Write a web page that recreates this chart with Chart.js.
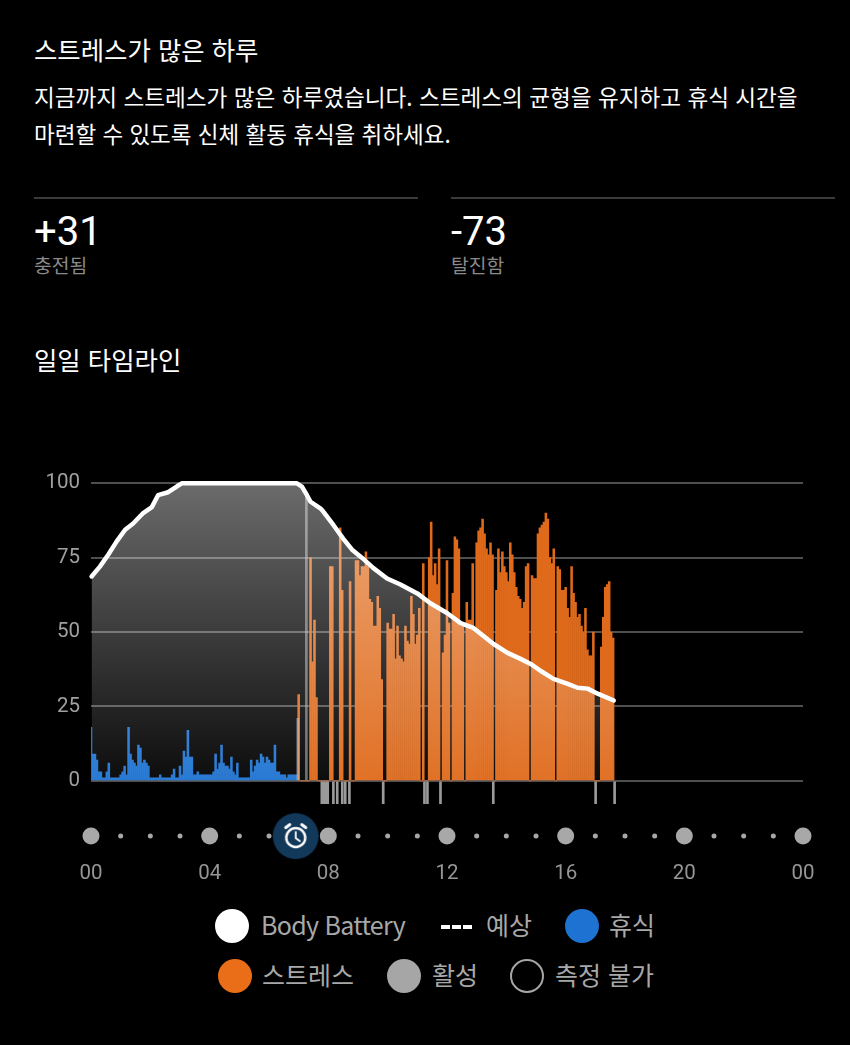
<!DOCTYPE html>
<html lang="ko">
<head>
<meta charset="utf-8">
<title>일일 타임라인</title>
<script src="https://cdn.jsdelivr.net/npm/chart.js@4/dist/chart.umd.min.js"></script>
<style>
    html, body { margin: 0; background: #000; }
    body { position: relative; width: 850px; height: 1045px; overflow: hidden; font-family: "Noto Sans CJK KR", sans-serif; color: #fff; }
    .t { position: absolute; white-space: nowrap; line-height: 1; }
    .rule { position: absolute; top: 197px; height: 2px; background: #3a3a3a; }
    .dot { position: absolute; width: 34px; height: 34px; border-radius: 50%; box-sizing: border-box; }
    .lg { position: absolute; font-size: 25px; color: #a8a8a8; line-height: 1; white-space: nowrap; }
    .dash { position: absolute; top: 925px; width: 9px; height: 4px; background: #fff; }
    #chartBox { position: absolute; left: 0; top: 460px; width: 850px; height: 430px; }
</style>
</head>
<body>
<div class="t" style="left:34px;top:37px;font-size:25.4px">스트레스가 많은 하루</div>
<div class="t" style="left:34px;top:86px;font-size:22.6px">지금까지 스트레스가 많은 하루였습니다. 스트레스의 균형을 유지하고 휴식 시간을</div>
<div class="t" style="left:34px;top:122px;font-size:22.5px">마련할 수 있도록 신체 활동 휴식을 취하세요.</div>
<div class="rule" style="left:34px;width:384px"></div>
<div class="rule" style="left:451px;width:384px"></div>
<div class="t" style="left:34px;top:212px;font-size:40px;font-family:Roboto">+31</div>
<div class="t" style="left:451px;top:212px;font-size:40px;font-family:Roboto">-73</div>
<div class="t" style="left:34px;top:256px;font-size:19.3px;color:#8a8a8a">충전됨</div>
<div class="t" style="left:451px;top:256px;font-size:19.3px;color:#8a8a8a">탈진함</div>
<div class="t" style="left:34px;top:347px;font-size:25.4px">일일 타임라인</div>

<div id="chartBox"><canvas id="timelineChart"></canvas></div>

<div class="dot" style="left:215px;top:909px;background:#fff"></div>
<div class="lg" style="left:261px;top:912px;letter-spacing:-0.7px">Body Battery</div>
<div class="dash" style="left:441px"></div><div class="dash" style="left:452px"></div><div class="dash" style="left:463px"></div>
<div class="lg" style="left:486px;top:912px">예상</div>
<div class="dot" style="left:565px;top:909px;background:#1e73d2"></div>
<div class="lg" style="left:609px;top:912px">휴식</div>
<div class="dot" style="left:218px;top:959px;background:#e96e17"></div>
<div class="lg" style="left:262px;top:962px">스트레스</div>
<div class="dot" style="left:387px;top:959px;background:#a6a6a6"></div>
<div class="lg" style="left:432px;top:962px">활성</div>
<div class="dot" style="left:510px;top:959px;border:2px solid #a6a6a6"></div>
<div class="lg" style="left:555px;top:962px">측정 불가</div>

<script>
const yTicks = [0, 25, 50, 75, 100];
const hourDots = [0, 1, 2, 3, 4, 5, 6, 8, 9, 10, 11, 12, 13, 14, 15, 16, 17, 18, 19, 20, 21, 22, 23, 24];

const batteryHours = [0.02, 0.3, 0.58, 0.86, 1.15, 1.42, 1.76, 2.05, 2.26, 2.6, 2.9, 3.06, 6.94, 7.11, 7.28, 7.4, 7.73, 7.83, 8.17, 8.5, 8.8, 9.13, 9.52, 9.98, 10.43, 11.0, 11.44, 12.0, 12.46, 12.89, 13.23, 13.57, 14.04, 14.48, 14.82, 15.15, 15.59, 16.07, 16.4, 16.74, 17.08, 17.62];
const batteryValues = [68.7, 72, 76, 80.4, 84.4, 86.5, 90, 92, 96, 97, 99, 100, 100, 98.9, 96, 93.8, 91.6, 90.5, 86, 81.4, 77.7, 75, 71.5, 68, 66, 63, 59.7, 56.4, 53, 51.4, 48.7, 46, 43, 41, 39.3, 37, 34.3, 32.6, 31.3, 31, 29.3, 27];

// 4 minute samples from 00:00
const restValues = [18, 9, 9, 7, 3, 3, 1, 1, 3, 6, 1, 1, 1, 1, 1, 2, 3, 5, 2, 18, 9, 7, 6, 5, 12, 11, 6, 7, 6, 5, 1, 1, 1, 1, 1, 2, 1, 1, 1, 1, 1, 2, 4, 1, 1, 5, 2, 10, 8, 17, 8, 8, 2, 2, 3, 2, 2, 2, 2, 2, 2, 2, 3, 9, 4, 6, 12, 6, 5, 5, 4, 8, 3, 2, 6, 1, 1, 1, 1, 1, 1, 7, 3, 5, 7, 6, 9, 8, 6, 8, 7, 6, 6, 12, 3, 3, 2, 2, 2, 1, 2, 2, 2, 2, 2];

// 4 minute samples from 07:00
const stressValues = [29, 0, 0, 0, 0, 0, 75, 40, 54, 28, 0, 0, 0, 0, 0, 0, 72, 72, 0, 0, 0, 85, 64, 0, 0, 0, 67, 0, 0, 74, 74, 69, 72, 72, 77, 72, 61, 60, 52, 52, 62, 58, 34, 0, 0, 53, 51, 51, 56, 41, 52, 42, 41, 40, 52, 47, 46, 62, 56, 46, 49, 58, 0, 73, 0, 0, 75, 87, 69, 73, 66, 78, 0, 43, 49, 74, 53, 0, 63, 82, 81, 78, 52, 53, 0, 60, 54, 54, 73, 50, 80, 84, 85, 88, 83, 78, 76, 80, 76, 0, 64, 78, 70, 77, 72, 70, 67, 80, 76, 70, 65, 62, 61, 58, 60, 72, 73, 0, 69, 68, 68, 83, 85, 86, 87, 90, 88, 75, 73, 78, 0, 72, 71, 64, 64, 65, 58, 55, 72, 63, 60, 55, 56, 52, 50, 58, 44, 42, 42, 50, 0, 0, 0, 45, 55, 65, 66, 67, 50, 48];

const activeHours = [6.97, 7.26];
const activeValues = [21, 96];
const activeMarkHours = [7.78, 7.85, 7.92, 7.98, 8.17, 8.3, 8.47, 8.57, 8.71, 9.85, 11.24, 11.34, 11.78, 13.56, 17.01, 17.65];
const alarmHour = [6.9];

const STEP_HOURS = 4 / 60;
const DOT_ROW = -18.56;
const MARK_DEPTH = -7.7;

const makeAlarmIcon = () => {
    const c = document.createElement('canvas');
    c.width = 48;
    c.height = 48;
    const g = c.getContext('2d');
    g.fillStyle = '#12385a';
    g.beginPath();
    g.arc(24, 24, 23, 0, Math.PI * 2);
    g.fill();
    g.strokeStyle = '#fff';
    g.lineCap = 'round';
    g.lineWidth = 2.4;
    g.beginPath();
    g.arc(24, 25.5, 9.5, 0, Math.PI * 2);
    g.stroke();
    g.lineWidth = 1.8;
    g.beginPath();
    g.moveTo(24, 20);
    g.lineTo(24, 26);
    g.lineTo(28, 29);
    g.stroke();
    g.lineWidth = 3;
    g.beginPath();
    g.moveTo(14, 15.5);
    g.lineTo(18, 12.5);
    g.moveTo(34, 15.5);
    g.lineTo(30, 12.5);
    g.stroke();
    return c;
};

const batteryFill = (context) => {
    const { chart } = context;
    if (!chart.chartArea) return 'transparent';
    const y = chart.scales.y;
    const gradient = chart.ctx.createLinearGradient(0, y.getPixelForValue(100), 0, y.getPixelForValue(0));
    gradient.addColorStop(0, 'rgba(255, 255, 255, 0.42)');
    gradient.addColorStop(1, 'rgba(255, 255, 255, 0.05)');
    return gradient;
};

new Chart(document.getElementById('timelineChart'), {
    type: 'bar',
    data: {
        datasets: [
            {
                type: 'scatter',
                data: alarmHour.map(h => ({ x: h, y: DOT_ROW })),
                pointStyle: makeAlarmIcon(),
                pointRadius: 24,
                clip: false,
                order: 0
            },
            {
                type: 'scatter',
                data: hourDots.map(h => ({ x: h, y: DOT_ROW })),
                backgroundColor: '#a8a8a8',
                borderWidth: 0,
                pointRadius: (ctx) => (hourDots[ctx.dataIndex] % 4 === 0 ? 8.5 : 2.5),
                clip: false,
                order: 1
            },
            {
                type: 'line',
                label: 'Body Battery',
                data: batteryHours.map((h, i) => ({ x: h, y: batteryValues[i] })),
                borderColor: '#fff',
                borderWidth: 4.5,
                borderCapStyle: 'round',
                borderJoinStyle: 'round',
                backgroundColor: batteryFill,
                fill: 'origin',
                pointRadius: 0,
                tension: 0,
                clip: false,
                order: 2
            },
            {
                label: '활성',
                data: activeHours.map((h, i) => ({ x: h, y: activeValues[i] })),
                backgroundColor: 'rgba(190, 190, 190, 0.55)',
                barThickness: 2,
                order: 3
            },
            {
                label: '활성',
                data: activeMarkHours.map(h => ({ x: h, y: MARK_DEPTH })),
                backgroundColor: '#9a9a9a',
                barThickness: 2,
                order: 3
            },
            {
                label: '휴식',
                data: restValues.map((v, i) => ({ x: i * STEP_HOURS, y: v })),
                backgroundColor: '#1e73d2',
                barThickness: 1.9,
                order: 4
            },
            {
                label: '스트레스',
                data: stressValues.map((v, i) => ({ x: 7 + i * STEP_HOURS, y: v })),
                backgroundColor: '#df6a1b',
                barThickness: 1.9,
                order: 4
            }
        ]
    },
    options: {
        responsive: true,
        maintainAspectRatio: false,
        animation: false,
        grouped: false,
        layout: { autoPadding: false, padding: { top: 21.5, right: 47, left: 0, bottom: 0 } },
        plugins: {
            legend: { display: false },
            tooltip: { enabled: false }
        },
        scales: {
            x: {
                type: 'linear',
                offset: false,
                min: 0,
                max: 24,
                afterFit: (axis) => { axis.height = 37.7; },
                grid: { display: false },
                border: { display: false },
                ticks: {
                    stepSize: 4,
                    autoSkip: false,
                    maxRotation: 0,
                    padding: 1,
                    color: '#969696',
                    font: { family: 'Roboto', size: 20.5 },
                    callback: (v) => String(v % 24).padStart(2, '0')
                }
            },
            y: {
                min: -24,
                max: 100,
                afterFit: (axis) => { axis.width = 91; },
                afterBuildTicks: (axis) => { axis.ticks = yTicks.map(value => ({ value })); },
                grid: { color: '#4f4f4f', lineWidth: 2, drawTicks: false },
                border: { display: false },
                ticks: {
                    padding: 11,
                    color: '#a0a0a0',
                    font: { family: 'Roboto', size: 20.5 }
                }
            }
        }
    }
});
</script>
</body>
</html>
